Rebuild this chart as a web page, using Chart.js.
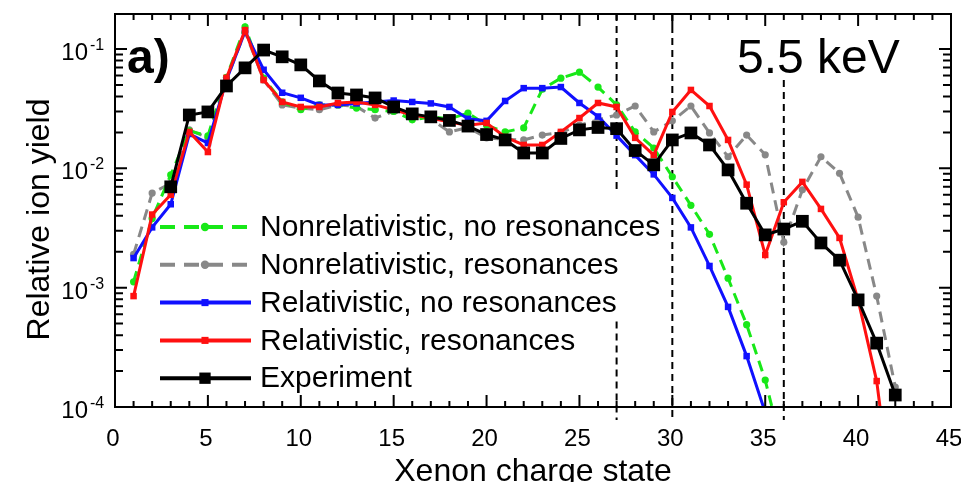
<!DOCTYPE html>
<html><head><meta charset="utf-8">
<script src="https://cdn.jsdelivr.net/npm/chart.js@4.4.1/dist/chart.umd.min.js"></script>
<style>html,body{margin:0;padding:0;background:#fff;overflow:hidden}#wrap{width:961px;height:482px}</style>
</head><body><div id="wrap"><canvas id="c" width="961" height="482"></canvas></div>
<script>
// ---- data ----
const chargeStates = [1,2,3,4,5,6,7,8,9,10,11,12,13,14,15,16,17,18,19,20,21,22,23,24,25,26,27,28,29,30,31,32,33,34,35,36,37,38,39,40,41,42];

const nonrelNoRes = [0.00112,0.0038,0.0088,0.0206,0.0187,0.058,0.153,0.057,0.036,0.031,0.034,0.034,0.032,0.031,0.030,0.0255,0.027,0.026,0.029,0.023,0.0202,0.0218,0.046,0.057,0.064,0.048,0.034,0.0202,0.0148,0.0085,0.0049,0.0028,0.0012,0.00049,0.000168,0.00004,null,null,null,null,null,null];

const nonrelRes = [0.0019,0.0062,0.0075,0.021,0.018,0.055,0.14,0.055,0.034,0.032,0.031,0.034,0.033,0.0264,0.030,0.028,0.026,0.0202,0.022,0.018,0.0175,0.0173,0.019,0.020,0.023,0.0255,0.028,0.0333,0.0202,0.025,0.0333,0.0198,0.0125,0.019,0.013,0.0024,0.0066,0.0125,0.0091,0.0039,0.00085,0.000147];

const relNoRes = [0.00177,0.0032,0.005,0.0194,0.0163,0.055,0.14,0.067,0.043,0.039,0.034,0.034,0.035,0.036,0.037,0.036,0.035,0.0327,0.026,0.025,0.0367,0.047,0.047,0.048,0.0353,0.0272,0.0188,0.0129,0.0089,0.00565,0.0032,0.00152,0.00069,0.000267,0.00009,null,null,null,null,null,null,null];

const relRes = [0.00085,0.0041,0.006,0.0202,0.0137,0.0573,0.144,0.055,0.036,0.0327,0.0327,0.0353,0.036,0.034,0.031,0.028,0.0264,0.0244,0.023,0.024,0.0183,0.0157,0.0157,0.0202,0.0264,0.0353,0.0327,0.018,0.0129,0.0297,0.0454,0.0333,0.0173,0.0073,0.00188,0.0052,0.0077,0.00457,0.00261,0.00079,0.000165,0.00001];

const experiment = [null,null,0.007,0.028,0.0297,0.049,0.0695,0.098,0.086,0.0736,0.054,0.0428,0.0412,0.0389,0.0327,0.0286,0.027,0.0252,0.0226,0.0192,0.0173,0.01345,0.01345,0.0178,0.021,0.022,0.0215,0.0141,0.0107,0.0173,0.0198,0.0157,0.0097,0.0051,0.00277,0.0031,0.0036,0.00237,0.0017,0.00079,0.000343,0.000126];

const seriesNames = ['Nonrelativistic, no resonances','Nonrelativistic, resonances','Relativistic, no resonances','Relativistic, resonances','Experiment'];

const xTickLabels = [0,5,10,15,20,25,30,35,40,45];
const yTickExponents = [-1,-2,-3,-4];

// vertical dashed marker lines (charge states) and their visible spans (null = frame edge / below axis)
const thresholdCharges = [27,30,36];
const thresholdSpans = [[[null,0.0063],[0.00052,null]],[[null,null]],[[0.055,null]]];

const panelLabel = 'a)';
const energyLabel = '5.5 keV';
const xTitle = 'Xenon charge state';
const yTitle = 'Relative ion yield';

// ---- chart ----
const FONT = "'Liberation Sans', Arial, sans-serif";
const pts = arr => chargeStates.map((q,i)=>({x:q,y:arr[i]}));

const datasets = [
  {label:seriesNames[0], data:pts(nonrelNoRes), borderColor:'#18e818', backgroundColor:'#18e818', borderWidth:3, borderDash:[11,7], pointStyle:'circle', pointRadius:3.6, pointBorderWidth:0, order:3},
  {label:seriesNames[1], data:pts(nonrelRes), borderColor:'#888888', backgroundColor:'#888888', borderWidth:3, borderDash:[11,7], pointStyle:'circle', pointRadius:3.6, pointBorderWidth:0, order:4},
  {label:seriesNames[2], data:pts(relNoRes), borderColor:'#1010ff', backgroundColor:'#1010ff', borderWidth:3, pointStyle:'rect', pointRadius:4.6, pointBorderWidth:0, order:2},
  {label:seriesNames[3], data:pts(relRes), borderColor:'#ff1010', backgroundColor:'#ff1010', borderWidth:3, pointStyle:'rect', pointRadius:4.6, pointBorderWidth:0, order:1},
  {label:seriesNames[4], data:pts(experiment), borderColor:'#000000', backgroundColor:'#000000', borderWidth:3, pointStyle:'rect', pointRadius:9, pointBorderWidth:0, order:0}
];

function drawPointShape(ctx, style, x, y, r){
  ctx.beginPath();
  if(style==='rect'){ const s=Math.SQRT1_2*r; ctx.rect(x-s,y-s,2*s,2*s); }
  else { ctx.arc(x,y,r,0,Math.PI*2); }
  ctx.fill();
}

const decor = {
  id:'decor',
  beforeDatasetsDraw(chart){
    const {ctx, chartArea:ca, scales:{x,y}} = chart;
    ctx.save();
    ctx.strokeStyle='#000'; ctx.lineWidth=2; ctx.setLineDash([7,5]);
    thresholdCharges.forEach((q,i)=>{
      const px = x.getPixelForValue(q);
      thresholdSpans[i].forEach(([top,bot])=>{
        const y0 = top===null ? ca.top : y.getPixelForValue(top);
        const y1 = bot===null ? ca.bottom+13 : y.getPixelForValue(bot);
        ctx.beginPath(); ctx.moveTo(px,y0); ctx.lineTo(px,y1); ctx.stroke();
      });
    });
    ctx.restore();
  },
  afterDatasetsDraw(chart){
    const {ctx, chartArea:ca, scales:{x,y}} = chart;
    ctx.save();
    // frame
    ctx.strokeStyle='#000'; ctx.lineWidth=2; ctx.setLineDash([]);
    ctx.strokeRect(ca.left, ca.top, ca.right-ca.left, ca.bottom-ca.top);
    // x ticks (inward, bottom and top)
    ctx.lineWidth=2;
    for(let v=x.min; v<=x.max; v++){
      const px = x.getPixelForValue(v);
      const len = v%5===0 ? 12 : 6;
      ctx.beginPath();
      ctx.moveTo(px,ca.bottom); ctx.lineTo(px,ca.bottom-len);
      ctx.moveTo(px,ca.top); ctx.lineTo(px,ca.top+len);
      ctx.stroke();
    }
    // y ticks (log, inward, left and right)
    for(let d=-4; d<=-1; d++){
      for(let k=1;k<=9;k++){
        const v = k*Math.pow(10,d);
        if(v<y.min*0.999 || v>y.max) continue;
        const py = y.getPixelForValue(v);
        const len = k===1 ? 12 : 8;
        ctx.beginPath();
        ctx.moveTo(ca.left,py); ctx.lineTo(ca.left+len,py);
        ctx.moveTo(ca.right,py); ctx.lineTo(ca.right-len,py);
        ctx.stroke();
      }
    }
    ctx.fillStyle='#000';
    // x tick labels
    ctx.font = '24px '+FONT; ctx.textAlign='center'; ctx.textBaseline='alphabetic';
    xTickLabels.forEach(v=>{ ctx.fillText(String(v), x.getPixelForValue(v)-2, ca.bottom+39); });
    // y tick labels 10^n
    yTickExponents.forEach(e=>{
      const py = y.getPixelForValue(Math.pow(10,e));
      ctx.font='24px '+FONT; ctx.textAlign='right';
      ctx.fillText('10', ca.left-27, py+11);
      ctx.font='16px '+FONT; ctx.textAlign='left';
      ctx.fillText(String(e).replace('-','-'), ca.left-25, py+1);
    });
    // axis titles
    ctx.font='32px '+FONT; ctx.textAlign='center';
    ctx.fillText(xTitle, (ca.left+ca.right)/2, ca.bottom+74);
    ctx.save();
    ctx.translate(49, (ca.top+ca.bottom)/2+9);
    ctx.rotate(-Math.PI/2);
    ctx.fillText(yTitle, 0, 0);
    ctx.restore();
    // panel annotations
    ctx.textAlign='left';
    ctx.font='bold 48px '+FONT;
    ctx.fillText(panelLabel, ca.left+12, ca.top+59);
    ctx.font='48px '+FONT;
    ctx.fillText(energyLabel, ca.left+622, ca.top+59);
    // legend
    chart.data.datasets.forEach((ds,i)=>{
      const ry = ca.top + 213 + i*37.8;
      const x0 = ca.left+45, x1 = ca.left+136, xm = ca.left+90;
      ctx.strokeStyle = ds.borderColor; ctx.fillStyle = ds.backgroundColor;
      ctx.lineWidth = 4;
      ctx.setLineDash(ds.borderDash ? [15,9] : []);
      ctx.beginPath(); ctx.moveTo(x0,ry); ctx.lineTo(x1,ry); ctx.stroke();
      ctx.setLineDash([]);
      drawPointShape(ctx, ds.pointStyle, xm, ry, ds.pointStyle==='rect' ? (ds.pointRadius>6 ? 8 : 5) : 4.2);
      ctx.fillStyle='#000'; ctx.font='30px '+FONT; ctx.textAlign='left'; ctx.textBaseline='middle';
      ctx.fillText(ds.label, ca.left+145, ry+1);
      ctx.textBaseline='alphabetic';
    });
    ctx.restore();
  }
};

new Chart(document.getElementById('c'), {
  type:'line',
  data:{datasets},
  options:{
    responsive:false, animation:false, devicePixelRatio:1,
    layout:{padding:{left:0, top:14, right:10, bottom:0}},
    plugins:{legend:{display:false}, tooltip:{enabled:false}},
    scales:{
      x:{type:'linear', min:0, max:45, grid:{display:false}, border:{display:false}, ticks:{display:false},
         afterFit(s){ s.height = 75; }},
      y:{type:'logarithmic', min:1e-4, max:0.1965, grid:{display:false}, border:{display:false}, ticks:{display:false},
         afterFit(s){ s.width = 115; }}
    }
  },
  plugins:[decor]
});
</script>
</body></html>
